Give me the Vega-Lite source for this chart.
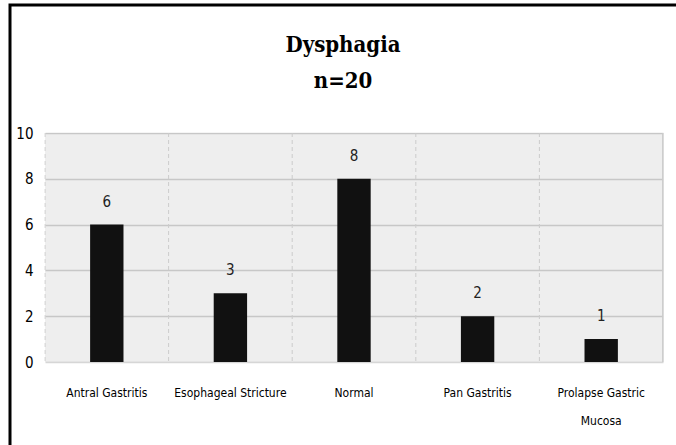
{
  "$schema": "https://vega.github.io/schema/vega-lite/v6.json",
  "width": 666,
  "height": 440,
  "autosize": {"type": "none"},
  "padding": {"left": 10, "top": 5, "right": 0, "bottom": 0},
  "background": "white",
  "config": {
    "view": {"stroke": "black", "strokeWidth": 3, "strokeDash": [666, 1106, 440], "fill": null}
  },
  "title": {
    "text": ["Dysphagia", "n=20"],
    "anchor": "middle",
    "frame": "group",
    "offset": -88,
    "font": "DejaVu Serif Condensed",
    "fontWeight": "bold",
    "fontSize": 22,
    "lineHeight": 36,
    "color": "black"
  },
  "data": {
    "values": [
      {"category": "Antral Gastritis", "count": 6},
      {"category": "Esophageal Stricture", "count": 3},
      {"category": "Normal", "count": 8},
      {"category": "Pan Gastritis", "count": 2},
      {"category": "Prolapse Gastric Mucosa", "count": 1}
    ]
  },
  "encoding": {
    "x": {
      "field": "category",
      "type": "nominal",
      "sort": null,
      "scale": {"range": [35, 653], "paddingInner": 0, "paddingOuter": 0},
      "axis": {
        "orient": "bottom",
        "offset": -83,
        "title": null,
        "grid": false,
        "domain": false,
        "ticks": false,
        "labelAngle": 0,
        "labelPadding": 25,
        "labelFont": "DejaVu Sans Condensed, Roboto",
        "labelFontSize": 12,
        "labelLineHeight": 28,
        "labelColor": "black",
        "labelExpr": "datum.value == 'Prolapse Gastric Mucosa' ? ['Prolapse Gastric', 'Mucosa'] : datum.label"
      }
    }
  },
  "layer": [
    {
      "mark": {"type": "rule", "strokeDash": [4, 3], "color": "#dadada", "strokeWidth": 1},
      "encoding": {
        "x": {"field": "category", "type": "nominal", "bandPosition": 0},
        "y": {"datum": 10, "type": "quantitative"},
        "y2": {"datum": 0}
      }
    },
    {
      "mark": {"type": "rule", "color": "#dadada", "strokeWidth": 1},
      "encoding": {
        "x": {"datum": "Prolapse Gastric Mucosa", "type": "nominal", "bandPosition": 1},
        "y": {"datum": 10, "type": "quantitative"},
        "y2": {"datum": 0}
      }
    },
    {
      "mark": {"type": "rect", "fill": "black", "fillOpacity": 0.065},
      "encoding": {
        "y": {"datum": 10, "type": "quantitative"},
        "y2": {"datum": 0}
      }
    },
    {
      "mark": {"type": "bar", "width": {"band": 0.27}, "fill": "#111111"},
      "encoding": {
        "y": {
          "field": "count",
          "type": "quantitative",
          "scale": {"domain": [0, 10], "range": [357, 128]},
          "axis": {
            "orient": "left",
            "offset": -35,
            "title": null,
            "values": [0, 2, 4, 6, 8, 10],
            "grid": true,
            "gridColor": "#d6d6d6",
            "gridWidth": 1.5,
            "domain": false,
            "ticks": false,
            "labelPadding": 12,
            "labelFont": "DejaVu Sans Condensed, Roboto",
            "labelFontSize": 15,
            "labelColor": "black"
          }
        }
      }
    },
    {
      "mark": {"type": "text", "dy": -18, "baseline": "alphabetic", "font": "DejaVu Sans Condensed, Roboto", "fontSize": 15, "color": "#222222"},
      "encoding": {
        "y": {"field": "count", "type": "quantitative"},
        "text": {"field": "count", "type": "quantitative"}
      }
    }
  ]
}
